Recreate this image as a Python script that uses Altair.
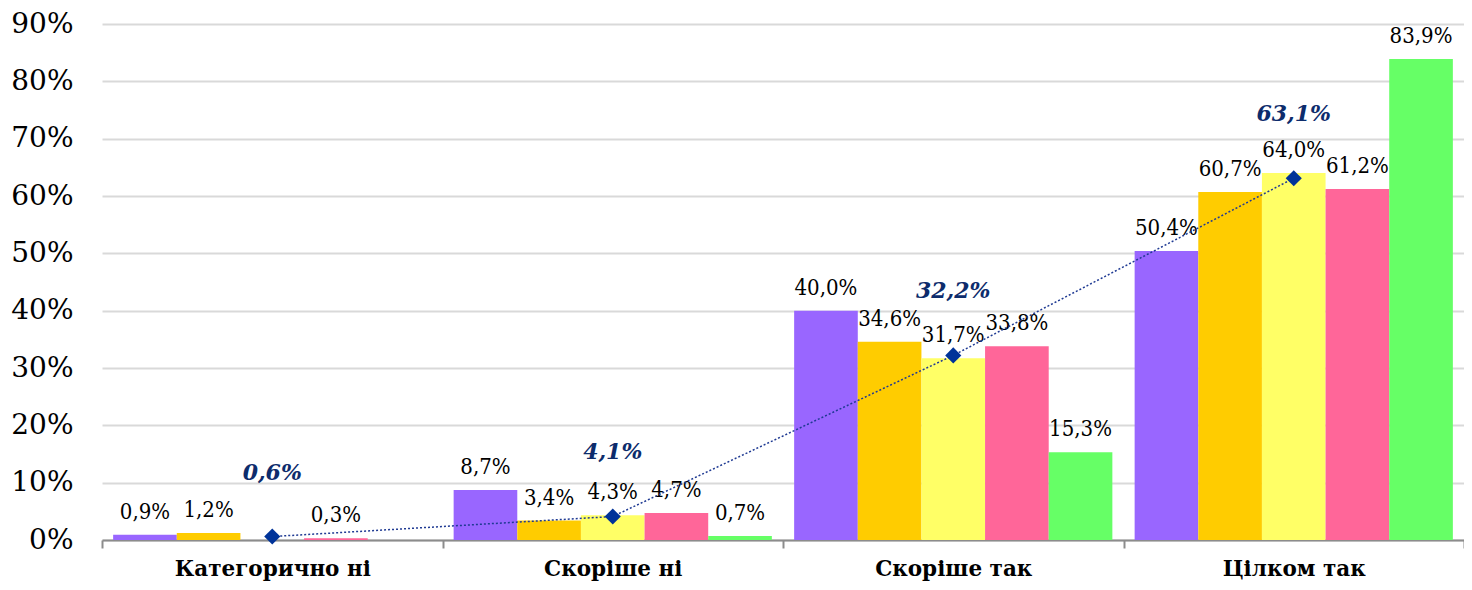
import altair as alt
import pandas as pd

categories = ["Категорично ні", "Скоріше ні", "Скоріше так", "Цілком так"]
series = ["Група 1", "Група 2", "Група 3", "Група 4", "Група 5"]
s1 = [0.9, 8.7, 40.0, 50.4]
s2 = [1.2, 3.4, 34.6, 60.7]
s3 = [None, 4.3, 31.7, 64.0]
s4 = [0.3, 4.7, 33.8, 61.2]
s5 = [None, 0.7, 15.3, 83.9]
average = [0.6, 4.1, 32.2, 63.1]
colors = ["#9966FF", "#FFCC00", "#FFFF66", "#FF6699", "#66FF66"]
y_ticks = [0, 10, 20, 30, 40, 50, 60, 70, 80, 90]

rows = []
for name, vals in zip(series, [s1, s2, s3, s4, s5]):
    for c, v in zip(categories, vals):
        if v is not None:
            rows.append({"cat": c, "s": name, "v": v / 100})
bars_df = pd.DataFrame(rows)
avg_df = pd.DataFrame({"cat": categories, "v": [a / 100 for a in average]})

FONT = "DejaVu Serif"
FONT_C = "DejaVu Serif Condensed"

x = alt.X(
    "cat:N",
    sort=categories,
    scale=alt.Scale(paddingInner=0, paddingOuter=0),
    axis=alt.Axis(
        title=None, labelAngle=0, labelFont=FONT, labelFontWeight="bold",
        labelFontSize=21.5, labelColor="black", labelPadding=10, labelLimit=0,
        domainColor="#8c8c8c", domainWidth=2, tickColor="#8c8c8c",
        tickSize=8, tickWidth=2, tickBand="extent", grid=False,
    ),
)
y = alt.Y(
    "v:Q",
    scale=alt.Scale(domain=[0, 0.9], nice=False),
    axis=alt.Axis(
        title=None, format=".0%", values=[t / 100 for t in y_ticks],
        domain=False, ticks=False, labelFont=FONT, labelFontSize=28,
        labelColor="black", labelPadding=29, gridColor="#d9d9d9", gridWidth=2,
    ),
)
xoff = alt.XOffset("s:N", sort=series, scale=alt.Scale(paddingInner=0, paddingOuter=0.175))
color = alt.Color("s:N", sort=series, scale=alt.Scale(domain=series, range=colors), legend=None)

bars = alt.Chart(bars_df).mark_bar().encode(x=x, y=y, xOffset=xoff, color=color)

bar_labels = alt.Chart(bars_df).transform_calculate(
    lab="replace(format(datum.v, '.1%'), '.', ',')"
).mark_text(font=FONT_C, fontSize=22, color="black", baseline="bottom", dy=-11).encode(
    x=x, y=y, xOffset=xoff, text="lab:N"
)

line = alt.Chart(avg_df).mark_line(color="#1F3A93", strokeDash=[2, 2], strokeWidth=1.5).encode(
    x=x, y=y
)
points = alt.Chart(avg_df).mark_point(
    shape="diamond", filled=True, size=260, color="#003399", opacity=1
).encode(x=x, y=y)
avg_labels = alt.Chart(avg_df).transform_calculate(
    lab="replace(format(datum.v, '.1%'), '.', ',')"
).mark_text(
    font=FONT, fontSize=22, fontWeight="bold", fontStyle="italic", color="#0D2C6C",
    baseline="middle", dy=-64,
).encode(x=x, y=y, text="lab:N")

chart = alt.layer(bars, bar_labels, line, points, avg_labels).properties(
    width=1362,
    height=516,
    autosize=alt.AutoSizeParams(type="none"),
    padding={"left": 94, "top": 16, "right": 0, "bottom": 42},
).configure_view(stroke=None)

chart.save("out.html", embed_options={"renderer": "svg", "actions": False})
